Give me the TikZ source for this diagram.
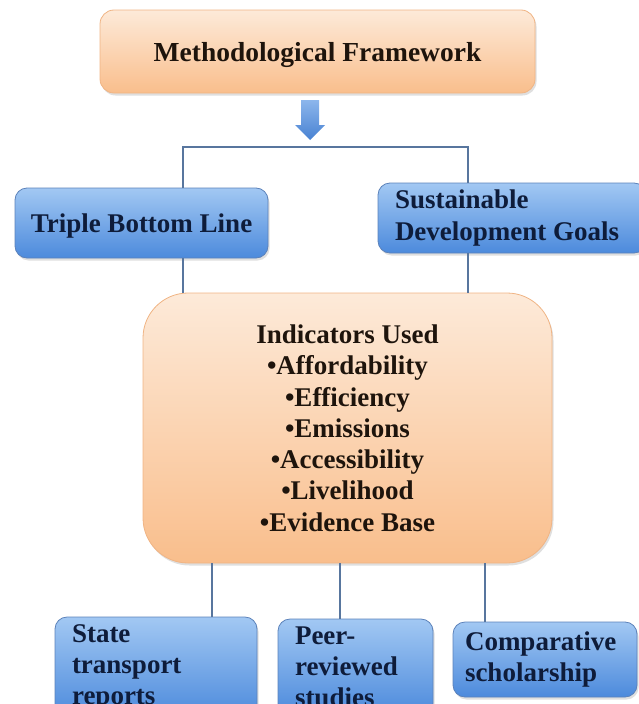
\documentclass[tikz,border=0pt]{standalone}
\usepackage{fontspec}
\setmainfont{Liberation Serif}
\usepackage{tikz}
\usetikzlibrary{shadows,calc}

\definecolor{mypeachtop}{RGB}{253,234,217}
\definecolor{mypeachbottom}{RGB}{249,190,140}
\definecolor{mypeachedge}{RGB}{240,180,132}
\definecolor{myskytop}{RGB}{162,200,243}
\definecolor{myskybottom}{RGB}{76,138,220}
\definecolor{myskyedge}{RGB}{92,130,186}
\definecolor{myarrowtop}{RGB}{140,182,236}
\definecolor{myarrowbottom}{RGB}{72,130,210}
\definecolor{mynavy}{RGB}{14,28,58}
\definecolor{mydarkbrown}{RGB}{30,20,12}
\definecolor{mylinkgray}{RGB}{88,118,158}

\begin{document}
\begin{tikzpicture}[
  x=1pt,
  y=-1pt,
  mytext/.style={
    font=\fontsize{27}{31.3}\selectfont\bfseries
    },
  myshadow/.style={
    drop shadow={shadow xshift=1.5pt, shadow yshift=-2.5pt, opacity=0.25}
    },
  peachbox/.style={
    mytext,
    text depth=0pt,
    draw=mypeachedge,
    line width=0.8pt,
    top color=mypeachtop,
    bottom color=mypeachbottom,
    rounded corners=#1,
    text=mydarkbrown,
    align=center,
    myshadow
    },
  skybox/.style={
    mytext,
    draw=myskyedge,
    line width=0.8pt,
    top color=myskytop,
    bottom color=myskybottom,
    rounded corners=12pt,
    text=mynavy,
    align=flush left,
    text width=#1,
    inner xsep=17pt,
    myshadow
    },
  mylink/.style={
    draw=mylinkgray,
    line width=2.7pt
    }
]

\useasboundingbox (0,0) rectangle (638,704);

% framework header and the arrow under it
\node[peachbox=14pt, minimum width=435pt, minimum height=83pt,
      font=\fontsize{27.5}{33}\selectfont\bfseries]
  (frame)
  at (317.5,51.5)
  {Methodological Framework};
\shade[top color=myarrowtop, bottom color=myarrowbottom]
  (301,100) -- (319,100) -- (319,125) -- (325,125)
  -- (310,140) -- (295,125) -- (301,125) -- cycle;

% the two frameworks
\node[skybox=235pt, align=flush center, text depth=0pt, inner xsep=9pt,
      minimum height=70pt]
  (tbl)
  at (141.5,223)
  {Triple Bottom Line};
\node[skybox=234pt, minimum height=70pt]
  (sdg)
  at (512,218)
  {
  Sustainable\\
  Development Goals
  };

% indicators
\node[peachbox=45pt, minimum width=409pt, minimum height=270pt]
  (ind)
  at (347.5,428)
  {
  Indicators Used\\
  •Affordability\\
  •Efficiency\\
  •Emissions\\
  •Accessibility\\
  •Livelihood\\
  •Evidence Base
  };

% sources
\node[skybox=168pt, minimum height=101pt]
  (state)
  at (156,667.5)
  {
  State\\
  transport\\
  reports
  };
\node[skybox=121pt, minimum height=96pt]
  (peer)
  at (355.5,667)
  {
  Peer-\\
  reviewed\\
  studies
  };
\node[skybox=160pt, inner xsep=12pt, minimum height=75pt]
  (compar)
  at (545,659.5)
  {
  Comparative\\
  scholarship
  };

% connectors
\coordinate (lx) at (183,0);
\coordinate (rx) at (468,0);
\coordinate (fork) at (0,147);
\draw[mylink] (tbl.north -| lx) |- (fork -| rx) -- (sdg.north -| rx);
\draw[mylink] (tbl.south -| lx) -- (ind.north -| lx);
\draw[mylink] (sdg.south -| rx) -- (ind.north -| rx);
\foreach \Xpos/\Caja in {212/state, 340/peer, 485/compar}
  {
  \coordinate (x\Caja) at (\Xpos,0);
  \draw[mylink] (ind.south -| x\Caja) -- (\Caja.north -| x\Caja);
  }

\end{tikzpicture}
\end{document}
